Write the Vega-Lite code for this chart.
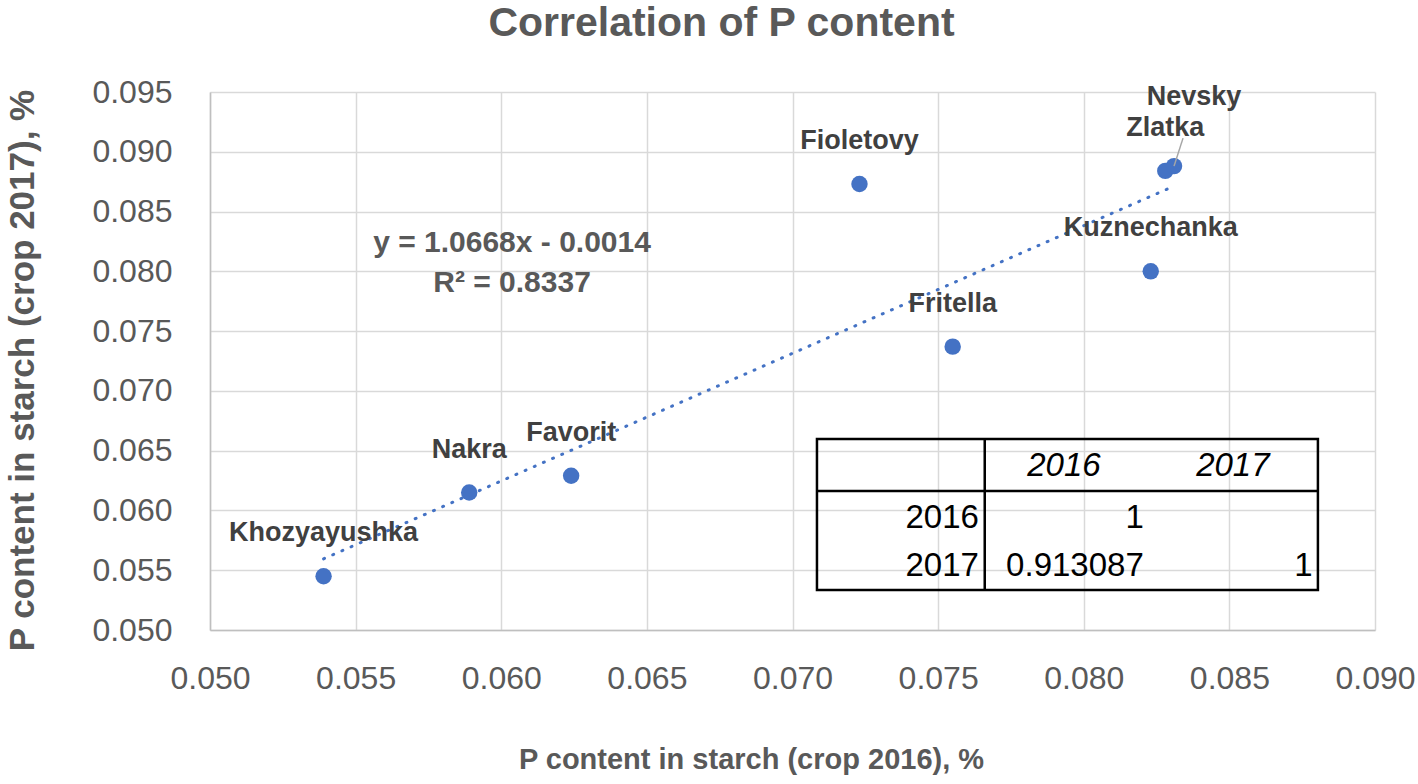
{
  "$schema": "https://vega.github.io/schema/vega-lite/v6.json",
  "width": 1165,
  "height": 538,
  "autosize": "none",
  "padding": {"left": 210, "top": 92, "right": 43, "bottom": 154},
  "background": "white",
  "title": {
    "text": "Correlation of P content",
    "font": "Liberation Sans",
    "fontSize": 41,
    "fontWeight": "bold",
    "color": "#595959",
    "anchor": "middle",
    "dx": -71,
    "offset": 31
  },
  "config": {
    "view": {"stroke": null},
    "font": "Liberation Sans"
  },
  "datasets": {
    "varieties": [
      {"name": "Khozyayushka", "x": 0.0539, "y": 0.0545},
      {"name": "Nakra", "x": 0.0589, "y": 0.0615},
      {"name": "Favorit", "x": 0.0624, "y": 0.0629},
      {"name": "Fioletovy", "x": 0.0723, "y": 0.0873},
      {"name": "Fritella", "x": 0.0755, "y": 0.0737},
      {"name": "Kuznechanka", "x": 0.0823, "y": 0.0800},
      {"name": "Zlatka", "x": 0.0828, "y": 0.0884},
      {"name": "Nevsky", "x": 0.0831, "y": 0.0888}
    ]
  },
  "layer": [
    {
      "data": {"name": "varieties"},
      "mark": {"type": "point", "filled": true, "shape": "circle", "size": 270, "color": "#4472C4", "opacity": 1},
      "encoding": {
        "x": {
          "field": "x",
          "type": "quantitative",
          "scale": {"domain": [0.05, 0.09], "nice": false, "zero": false},
          "axis": {
            "values": [0.05, 0.055, 0.06, 0.065, 0.07, 0.075, 0.08, 0.085, 0.09],
            "format": ".3f",
            "title": "P content in starch (crop 2016), %",
            "titleFont": "Liberation Sans",
            "titleFontSize": 29,
            "titleFontWeight": "bold",
            "titleColor": "#595959",
            "titleX": 541,
            "titleY": 138,
            "titleAnchor": "middle",
            "titleAlign": "center",
            "titleBaseline": "alphabetic",
            "labelFontSize": 32,
            "labelColor": "#595959",
            "labelPadding": 33,
            "labelFlush": false,
            "labelOverlap": false,
            "ticks": false,
            "grid": true,
            "gridColor": "#d9d9d9",
            "gridWidth": 1.5,
            "domainColor": "#bfbfbf",
            "domainWidth": 1.5
          }
        },
        "y": {
          "field": "y",
          "type": "quantitative",
          "scale": {"domain": [0.05, 0.095], "nice": false, "zero": false},
          "axis": {
            "values": [0.05, 0.055, 0.06, 0.065, 0.07, 0.075, 0.08, 0.085, 0.09, 0.095],
            "format": ".3f",
            "title": "P content in starch (crop 2017), %",
            "titleFont": "Liberation Sans",
            "titleFontSize": 35,
            "titleFontWeight": "bold",
            "titleColor": "#595959",
            "titleX": -188,
            "titleY": 278,
            "titleAngle": -90,
            "titleAlign": "center",
            "titleBaseline": "middle",
            "labelFontSize": 32,
            "labelColor": "#595959",
            "labelPadding": 38,
            "labelFlush": false,
            "labelOverlap": false,
            "ticks": false,
            "grid": true,
            "gridColor": "#d9d9d9",
            "gridWidth": 1.5,
            "domainColor": "#bfbfbf",
            "domainWidth": 1.5
          }
        }
      }
    },
    {
      "data": {"name": "varieties"},
      "transform": [{"regression": "y", "on": "x", "method": "linear"}],
      "mark": {"type": "line", "color": "#4472C4", "strokeWidth": 3, "strokeDash": [1, 9], "strokeCap": "round"},
      "encoding": {
        "x": {"field": "x", "type": "quantitative"},
        "y": {"field": "y", "type": "quantitative"}
      }
    },
    {
      "data": {"name": "varieties"},
      "transform": [{"filter": "datum.name != 'Nevsky'"}],
      "mark": {"type": "text", "dy": -43, "fontSize": 27, "fontWeight": "bold", "color": "#404040", "align": "center", "baseline": "middle"},
      "encoding": {
        "x": {"field": "x", "type": "quantitative"},
        "y": {"field": "y", "type": "quantitative"},
        "text": {"field": "name"}
      }
    },
    {
      "data": {"name": "varieties"},
      "transform": [{"filter": "datum.name == 'Nevsky'"}],
      "mark": {"type": "text", "dx": 20, "dy": -69, "fontSize": 27, "fontWeight": "bold", "color": "#404040", "align": "center", "baseline": "middle"},
      "encoding": {
        "x": {"field": "x", "type": "quantitative"},
        "y": {"field": "y", "type": "quantitative"},
        "text": {"field": "name"}
      }
    },
    {
      "data": {"name": "varieties"},
      "transform": [{"filter": "datum.name == 'Nevsky'"}],
      "mark": {"type": "rule", "color": "#a6a6a6", "strokeWidth": 1.5, "x2Offset": 9, "y2Offset": -28},
      "encoding": {
        "x": {"field": "x", "type": "quantitative"},
        "y": {"field": "y", "type": "quantitative"},
        "x2": {"field": "x"},
        "y2": {"field": "y"}
      }
    },
    {
      "data": {"values": [{}]},
      "mark": {"type": "rect", "fillOpacity": 0, "stroke": "black", "strokeWidth": 2.5},
      "encoding": {
        "x": {"datum": 0.07084, "type": "quantitative"},
        "x2": {"datum": 0.08804},
        "y": {"datum": 0.06597, "type": "quantitative"},
        "y2": {"datum": 0.05334}
      }
    },
    {
      "data": {"values": [{}]},
      "mark": {"type": "rule", "color": "black", "strokeWidth": 2.5},
      "encoding": {
        "x": {"datum": 0.0766, "type": "quantitative"},
        "y": {"datum": 0.06597, "type": "quantitative"},
        "y2": {"datum": 0.05334}
      }
    },
    {
      "data": {"values": [{}]},
      "mark": {"type": "rule", "color": "black", "strokeWidth": 2.5},
      "encoding": {
        "x": {"datum": 0.07084, "type": "quantitative"},
        "x2": {"datum": 0.08804},
        "y": {"datum": 0.06162, "type": "quantitative"}
      }
    },
    {
      "data": {"values": [{"t": "2016"}]},
      "mark": {"type": "text", "fontSize": 33, "fontStyle": "italic", "color": "black", "align": "center", "baseline": "middle"},
      "encoding": {
        "x": {"datum": 0.07932, "type": "quantitative"},
        "y": {"datum": 0.06371, "type": "quantitative"},
        "text": {"field": "t"}
      }
    },
    {
      "data": {"values": [{"t": "2017"}]},
      "mark": {"type": "text", "fontSize": 33, "fontStyle": "italic", "color": "black", "align": "center", "baseline": "middle"},
      "encoding": {
        "x": {"datum": 0.08512, "type": "quantitative"},
        "y": {"datum": 0.06371, "type": "quantitative"},
        "text": {"field": "t"}
      }
    },
    {
      "data": {"values": [{"t": "2016"}]},
      "mark": {"type": "text", "fontSize": 33, "color": "black", "align": "right", "baseline": "middle"},
      "encoding": {
        "x": {"datum": 0.0764, "type": "quantitative"},
        "y": {"datum": 0.05936, "type": "quantitative"},
        "text": {"field": "t"}
      }
    },
    {
      "data": {"values": [{"t": "1"}]},
      "mark": {"type": "text", "fontSize": 33, "color": "black", "align": "right", "baseline": "middle"},
      "encoding": {
        "x": {"datum": 0.08206, "type": "quantitative"},
        "y": {"datum": 0.05936, "type": "quantitative"},
        "text": {"field": "t"}
      }
    },
    {
      "data": {"values": [{"t": "2017"}]},
      "mark": {"type": "text", "fontSize": 33, "color": "black", "align": "right", "baseline": "middle"},
      "encoding": {
        "x": {"datum": 0.0764, "type": "quantitative"},
        "y": {"datum": 0.05535, "type": "quantitative"},
        "text": {"field": "t"}
      }
    },
    {
      "data": {"values": [{"t": "0.913087"}]},
      "mark": {"type": "text", "fontSize": 33, "color": "black", "align": "right", "baseline": "middle"},
      "encoding": {
        "x": {"datum": 0.08206, "type": "quantitative"},
        "y": {"datum": 0.05535, "type": "quantitative"},
        "text": {"field": "t"}
      }
    },
    {
      "data": {"values": [{"t": "1"}]},
      "mark": {"type": "text", "fontSize": 33, "color": "black", "align": "right", "baseline": "middle"},
      "encoding": {
        "x": {"datum": 0.08786, "type": "quantitative"},
        "y": {"datum": 0.05535, "type": "quantitative"},
        "text": {"field": "t"}
      }
    },
    {
      "data": {"values": [{"t": "y = 1.0668x - 0.0014"}]},
      "mark": {"type": "text", "fontSize": 30, "fontWeight": "bold", "color": "#595959", "align": "center", "baseline": "middle"},
      "encoding": {
        "x": {"datum": 0.06037, "type": "quantitative"},
        "y": {"datum": 0.08236, "type": "quantitative"},
        "text": {"field": "t"}
      }
    },
    {
      "data": {"values": [{"t": "R² = 0.8337"}]},
      "mark": {"type": "text", "fontSize": 30, "fontWeight": "bold", "color": "#595959", "align": "center", "baseline": "middle"},
      "encoding": {
        "x": {"datum": 0.06037, "type": "quantitative"},
        "y": {"datum": 0.07901, "type": "quantitative"},
        "text": {"field": "t"}
      }
    }
  ]
}
